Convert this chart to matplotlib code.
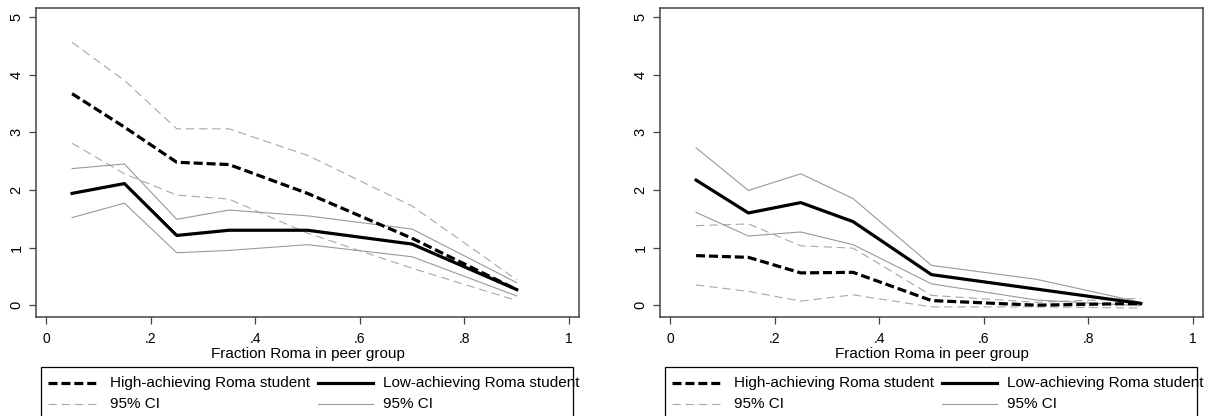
import matplotlib
matplotlib.use("Agg")
from matplotlib import pyplot as plt
from matplotlib.lines import Line2D
from matplotlib.patches import Rectangle

plt.rcParams['font.family'] = ['Liberation Sans', 'DejaVu Sans']
plt.rcParams['lines.scale_dashes'] = False

# fraction Roma in peer group
frac = [0.05, 0.15, 0.25, 0.35, 0.5, 0.7, 0.9]

# left panel
high_left = [3.67, 3.09, 2.48, 2.44, 1.94, 1.16, 0.27]
high_left_up = [4.56, 3.90, 3.06, 3.06, 2.60, 1.72, 0.44]
high_left_lo = [2.81, 2.28, 1.91, 1.84, 1.25, 0.64, 0.08]
low_left = [1.94, 2.11, 1.21, 1.30, 1.30, 1.06, 0.27]
low_left_up = [2.37, 2.45, 1.49, 1.65, 1.55, 1.32, 0.39]
low_left_lo = [1.52, 1.77, 0.91, 0.95, 1.05, 0.84, 0.16]

# right panel
high_right = [0.86, 0.83, 0.56, 0.57, 0.08, 0.00, 0.03]
high_right_up = [1.38, 1.41, 1.03, 0.99, 0.17, 0.05, 0.12]
high_right_lo = [0.35, 0.24, 0.07, 0.18, -0.03, -0.03, -0.05]
low_right = [2.17, 1.60, 1.78, 1.45, 0.53, 0.28, 0.03]
low_right_up = [2.73, 1.99, 2.28, 1.85, 0.69, 0.45, 0.05]
low_right_lo = [1.61, 1.20, 1.27, 1.05, 0.37, 0.09, -0.01]

xticks = [0, 0.2, 0.4, 0.6, 0.8, 1]
xticklabels = ['0', '.2', '.4', '.6', '.8', '1']
yticks = [0, 1, 2, 3, 4, 5]

legend_labels = ['High-achieving Roma student', 'Low-achieving Roma student', '95% CI', '95% CI']

W, H = 1216, 416
fig = plt.figure(figsize=(W / 100, H / 100), dpi=100)

# styles
thick_dash = dict(color='black', lw=2.3, dashes=(6.5, 2.8))
thick_solid = dict(color='black', lw=2.3)
ci_dash = dict(color='#a8a8a8', lw=0.8, dashes=(6, 3.5))
ci_solid = dict(color='#999999', lw=0.8)


def px(x, y):
    return x / W, 1 - y / H


def panel(left_px, high, high_up, high_lo, low, low_up, low_lo):
    x0, y0 = px(left_px, 316.7)
    ax = fig.add_axes([x0, y0, 543 / W, (316.7 - 7.8) / H])
    ax.plot(frac, high_up, zorder=2, **ci_dash)
    ax.plot(frac, high_lo, zorder=2, **ci_dash)
    ax.plot(frac, low_up, zorder=2, **ci_solid)
    ax.plot(frac, low_lo, zorder=2, **ci_solid)
    ax.plot(frac, low, zorder=3, **thick_solid)
    ax.plot(frac, high, zorder=4, **thick_dash)
    ax.set_xlim(-0.019, 1.019)
    ax.set_ylim(-0.2, 5.16)
    ax.set_xticks(xticks)
    ax.set_xticklabels(xticklabels)
    ax.set_yticks(yticks)
    ax.set_yticklabels([str(t) for t in yticks], rotation=90, va='center')
    ax.tick_params(axis='both', direction='out', length=5, width=0.9,
                   color='#444444')
    ax.tick_params(axis='x', labelsize=10, pad=6)
    ax.tick_params(axis='y', labelsize=10.5, pad=4)
    for s in ax.spines.values():
        s.set_color('#444444')
        s.set_linewidth(1.1)
    ax.set_xlabel('Fraction Roma in peer group', fontsize=11, labelpad=1)

    # legend box (Stata style, runs off the bottom of the picture)
    bx0, by0 = px(left_px + 5, 430)
    fig.patches.append(Rectangle((bx0, by0), 532 / W, (430 - 367.3) / H,
                                 transform=fig.transFigure, fill=False,
                                 edgecolor='black', lw=0.9))
    styles = [thick_dash, thick_solid, ci_dash, ci_solid]
    cols = [(left_px + 12, left_px + 61, left_px + 74),
            (left_px + 282, left_px + 337, left_px + 347)]
    rows = [383, 403.5]
    for i, (lab, st) in enumerate(zip(legend_labels, styles)):
        c = cols[i % 2]
        r = rows[i // 2]
        ha, va = px(c[0], r)
        hb, _ = px(c[1], r)
        fig.add_artist(Line2D([ha, hb], [va, va], transform=fig.transFigure, **st))
        tx, ty = px(c[2], r)
        fig.text(tx, ty, lab, fontsize=11, va='center', ha='left')
    return ax


panel(36, high_left, high_left_up, high_left_lo, low_left, low_left_up, low_left_lo)
panel(660, high_right, high_right_up, high_right_lo, low_right, low_right_up, low_right_lo)

fig.savefig('out.png', dpi=100, facecolor='white')
